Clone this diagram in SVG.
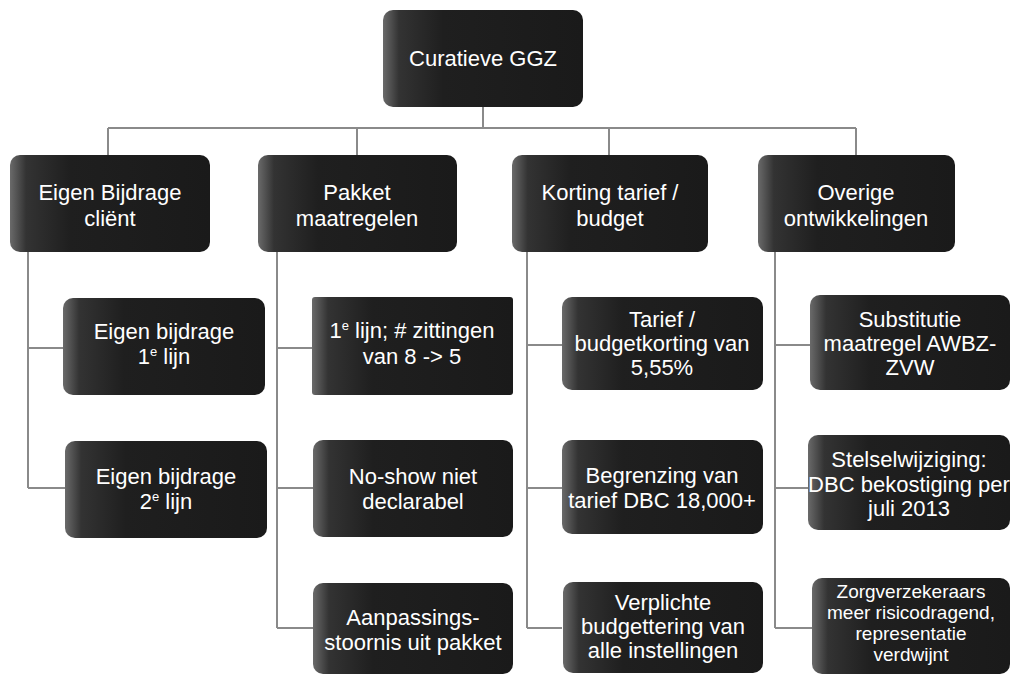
<svg xmlns="http://www.w3.org/2000/svg" width="1011" height="677" viewBox="0 0 1011 677">
<defs>
<linearGradient id="bg" x1="0" y1="0" x2="1" y2="0">
<stop offset="0" stop-color="#6a6a6a"/>
<stop offset="0.08" stop-color="#333"/>
<stop offset="0.3" stop-color="#1f1f1f"/>
<stop offset="1" stop-color="#1a1a1a"/>
</linearGradient>
<style>
.box{fill:url(#bg);}
.t{font-family:"Liberation Sans",Arial,sans-serif;font-size:22px;fill:#fff;text-anchor:middle;}
.s{font-size:19px;}
.sup{font-size:13px;}
.c{fill:none;stroke:#8a8a8a;stroke-width:2;}
</style>
</defs>
<rect width="1011" height="677" fill="#fff"/>
<g id="connectors" class="c">
<path d="M483 107V128M108 128H856M108 128V155M357 128V155M609 128V155M856 128V155"/>
<path d="M28 252V488M28 348H63M28 488H65"/>
<path d="M277 252V628M277 348H312M277 488H313M277 628H313"/>
<path d="M527 252V628M527 345H562M527 488H562M527 628H562"/>
<path d="M775 252V628M775 345H810M775 488H810M775 628H812"/>
</g>
<g id="n0"><rect class="box" x="383" y="10" width="200" height="97" rx="10"/><text class="t" x="483" y="66">Curatieve GGZ</text></g>
<g id="n1"><rect class="box" x="10" y="155" width="200" height="97" rx="10"/><text class="t" x="110" y="200">Eigen Bijdrage</text><text class="t" x="110" y="226">cliënt</text></g>
<g id="n2"><rect class="box" x="258" y="155" width="199" height="97" rx="10"/><text class="t" x="357" y="200">Pakket</text><text class="t" x="357" y="226">maatregelen</text></g>
<g id="n3"><rect class="box" x="512" y="155" width="196" height="97" rx="10"/><text class="t" x="610" y="200">Korting tarief /</text><text class="t" x="610" y="226">budget</text></g>
<g id="n4"><rect class="box" x="758" y="155" width="197" height="97" rx="10"/><text class="t" x="856" y="200">Overige</text><text class="t" x="856" y="226">ontwikkelingen</text></g>
<g id="a1"><rect class="box" x="63" y="298" width="202" height="97" rx="10"/><text class="t" x="164" y="339">Eigen bijdrage</text><text class="t" x="164" y="364">1<tspan class="sup" dy="-8">e</tspan><tspan dy="8"> lijn</tspan></text></g>
<g id="a2"><rect class="box" x="65" y="441" width="202" height="97" rx="10"/><text class="t" x="166" y="484">Eigen bijdrage</text><text class="t" x="166" y="509">2<tspan class="sup" dy="-8">e</tspan><tspan dy="8"> lijn</tspan></text></g>
<g id="b1"><rect class="box" x="312" y="297" width="201" height="98" rx="3"/><text class="t" x="412" y="338">1<tspan class="sup" dy="-8">e</tspan><tspan dy="8"> lijn; # zittingen</tspan></text><text class="t" x="412" y="364">van 8 -&gt; 5</text></g>
<g id="b2"><rect class="box" x="313" y="440" width="200" height="97" rx="10"/><text class="t" x="413" y="484">No-show niet</text><text class="t" x="413" y="509">declarabel</text></g>
<g id="b3"><rect class="box" x="313" y="583" width="200" height="91" rx="10"/><text class="t" x="413" y="625">Aanpassings-</text><text class="t" x="413" y="650">stoornis uit pakket</text></g>
<g id="c1"><rect class="box" x="562" y="297" width="201" height="93" rx="10"/><text class="t" x="662" y="327">Tarief /</text><text class="t" x="662" y="351">budgetkorting van</text><text class="t" x="662" y="375">5,55%</text></g>
<g id="c2"><rect class="box" x="562" y="440" width="201" height="94" rx="10"/><text class="t" x="662" y="483">Begrenzing van</text><text class="t" x="662" y="508">tarief DBC 18,000+</text></g>
<g id="c3"><rect class="box" x="563" y="582" width="200" height="91" rx="10"/><text class="t" x="663" y="610">Verplichte</text><text class="t" x="663" y="634">budgettering van</text><text class="t" x="663" y="658">alle instellingen</text></g>
<g id="d1"><rect class="box" x="810" y="295" width="200" height="95" rx="10"/><text class="t" x="910" y="327">Substitutie</text><text class="t" x="910" y="351">maatregel AWBZ-</text><text class="t" x="910" y="375">ZVW</text></g>
<g id="d2"><rect class="box" x="808" y="435" width="202" height="95" rx="10"/><text class="t" x="909" y="467">Stelselwijziging:</text><text class="t" x="909" y="492">DBC bekostiging per</text><text class="t" x="909" y="516">juli 2013</text></g>
<g id="d3"><rect class="box" x="812" y="578" width="198" height="96" rx="10"/><text class="t s" x="911" y="598">Zorgverzekeraars</text><text class="t s" x="911" y="619">meer risicodragend,</text><text class="t s" x="911" y="640">representatie</text><text class="t s" x="911" y="661">verdwijnt</text></g>
</svg>
